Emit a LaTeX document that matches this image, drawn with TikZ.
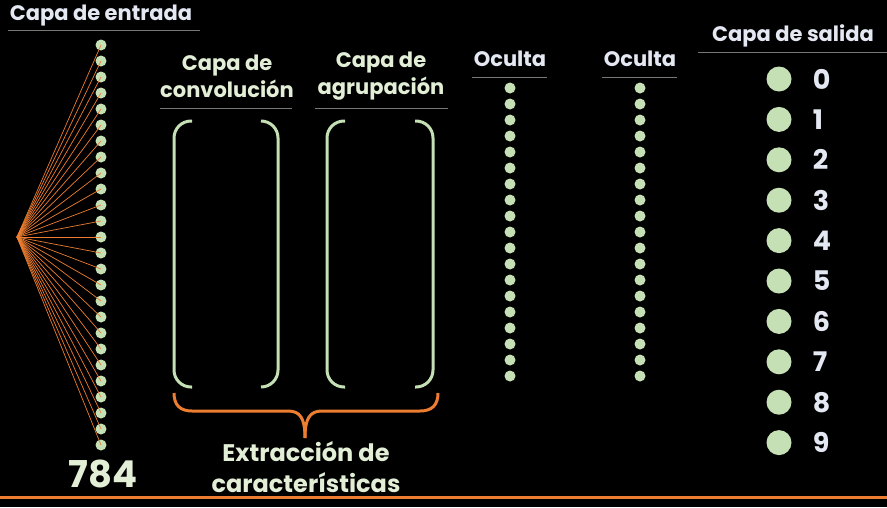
\documentclass[tikz,border=0pt]{standalone}
\usepackage{fontspec}
\setmainfont{Poppins}
\usetikzlibrary{positioning}

\definecolor{dotgreen}{RGB}{197,224,180}
\definecolor{palegreen}{RGB}{226,239,214}
\definecolor{titlewhite}{RGB}{228,232,242}
\definecolor{fanorange}{RGB}{237,125,49}
\definecolor{rulegray}{RGB}{120,120,120}

\begin{document}
\begin{tikzpicture}
  [x=1pt,y=-1pt,
   every node/.style={text=titlewhite,font=\bfseries\fontsize{21}{27}\selectfont},
   dot/.style={circle,fill=dotgreen,inner sep=0pt,minimum size=11pt},
   bigdot/.style={circle,fill=dotgreen,inner sep=0pt,minimum size=25pt},
   fan/.style={fanorange,line width=0.7pt},
   rule/.style={rulegray,line width=0.8pt},
   bracket/.style={dotgreen,line width=3pt,rounded corners=17pt},
   brace/.style={fanorange,line width=3pt}]
  \fill[black] (0,0) rectangle (887,507);
  \useasboundingbox (0,0) rectangle (887,507);

  % titles
  \node (tin) at (101,16) {Capa de entrada};
  \node[align=center,text=palegreen] (tconv) at (227,76) {Capa de\\convolución};
  \node[align=center,text=palegreen] (tpool) at (381,76) {Capa de\\agrupación};
  \node (thid1) at (510,59) {Oculta};
  \node (thid2) at (640,59) {Oculta};
  \node (tout) at (793,36) {Capa de salida};
  \draw[rule] (8,30) -- (200,30);
  \draw[rule] (160,108) -- (292,108);
  \draw[rule] (315,108) -- (448,108);
  \draw[rule] (472,77) -- (547,77);
  \draw[rule] (602,77) -- (677,77);
  \draw[rule] (698,52) -- (887,52);

  % input layer
  \coordinate (apex) at (17,237);
  \foreach \i in {1,...,26}
    \node[dot] (in\i) at (101,{45+(\i-1)*16}) {};
  \foreach \i in {1,...,26}
    \draw[fan] (apex) -- (in\i.center);
  \node[text=palegreen,font=\bfseries\fontsize{37}{40}\selectfont] (n784) at (103,474) {784};

  % convolution and pooling
  \draw[bracket] (192,121) -| (174,254) |- (192,387);
  \draw[bracket] (261,121) -| (278,254) |- (261,387);
  \draw[bracket] (345,121) -| (327,254) |- (345,387);
  \draw[bracket] (415,121) -| (433,254) |- (415,387);
  \draw[brace] (174,393) .. controls (174,405) and (180,411) .. (192,411) -- (288,411)
    .. controls (300,411) and (305,418) .. (305,438);
  \draw[brace] (438,393) .. controls (438,405) and (432,411) .. (420,411) -- (322,411)
    .. controls (310,411) and (305,418) .. (305,438);
  \node[align=center,text=palegreen,font=\bfseries\fontsize{24}{31}\selectfont] (feat) at (306,467)
    {Extracción de\\características};

  % hidden layers
  \foreach \i in {1,...,19} {
    \node[dot] (ha\i) at (510,{88+(\i-1)*16}) {};
    \node[dot] (hb\i) at (640,{88+(\i-1)*16}) {};
  }

  % output layer
  \foreach \d in {0,...,9} {
    \node[bigdot] (out\d) at (779,{79+\d*40.4}) {};
    \node[right=20pt of out\d,font=\bfseries\fontsize{27}{30}\selectfont,inner sep=1pt] (lbl\d) {\d};
  }

  \draw[fanorange,line width=3pt] (0,497) -- (887,497);
\end{tikzpicture}
\end{document}
